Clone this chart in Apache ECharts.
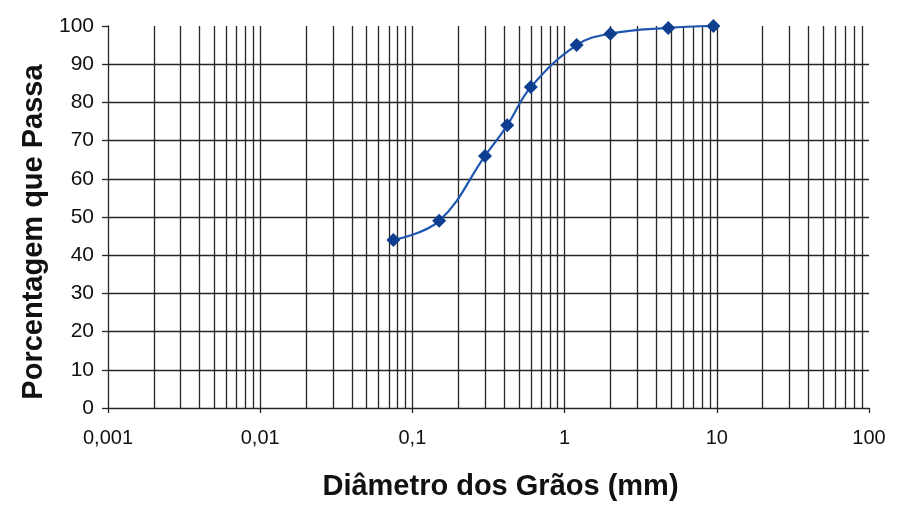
<!DOCTYPE html>
<html>
<head>
<meta charset="utf-8">
<script src="https://cdn.jsdelivr.net/npm/echarts@6/dist/echarts.min.js"></script>
<style>
html,body{margin:0;padding:0;background:#fff;}
#chart{width:899px;height:506px;}
</style>
</head>
<body>
<div id="chart"></div>
<script>
// Data (diameter in mm, percent passing)
const diameters = [0.075, 0.15, 0.3, 0.42, 0.6, 1.2, 2.0, 4.8, 9.5];
const passing = [44, 49, 66, 74, 84, 95, 98, 99.5, 100];
const xTickLabels = ["0,001", "0,01", "0,1", "1", "10", "100"];
const yTicks = [0, 10, 20, 30, 40, 50, 60, 70, 80, 90, 100];
const xTitle = "Diâmetro dos Grãos (mm)";
const yTitle = "Porcentagem que Passa";

// minor vertical grid lines (2..9 in every decade)
const decadeStarts = [0.001, 0.01, 0.1, 1, 10];
const minorGrid = [];
decadeStarts.forEach(d => { for (let k = 2; k <= 9; k++) minorGrid.push(+(d * k).toPrecision(3)); });

const font = '"Liberation Sans", Arial, sans-serif';
const gridColor = '#262626';

const chart = echarts.init(document.getElementById('chart'), null, {renderer: 'canvas'});
chart.setOption({
  animation: false,
  backgroundColor: '#ffffff',
  grid: {left: 108, right: 30, top: 26, bottom: 98},
  xAxis: {
    type: 'log', logBase: 10, min: 0.001, max: 100,
    name: xTitle, nameLocation: 'middle', nameGap: 64,
    nameTextStyle: {fontFamily: font, fontWeight: 'bold', fontSize: 29, color: '#111', padding: [0, 0, 0, 24]},
    axisLine: {show: true, lineStyle: {color: gridColor, width: 1.3}},
    axisTick: {show: true, length: 5, lineStyle: {color: gridColor, width: 1.3}},
    minorTick: {show: false},
    axisLabel: {
      fontFamily: font, fontSize: 20, color: '#111', margin: 20,
      formatter: v => xTickLabels[Math.round(Math.log10(v)) + 3]
    },
    splitLine: {show: true, showMinLine: false, showMaxLine: false, lineStyle: {color: gridColor, width: 1.3}}
  },
  yAxis: {
    type: 'value', min: 0, max: 100, interval: 10,
    name: yTitle, nameLocation: 'middle', nameGap: 57, nameRotate: 90,
    nameTextStyle: {fontFamily: font, fontWeight: 'bold', fontSize: 29, color: '#111', padding: [0, 30, 0, 0]},
    axisLine: {show: true, lineStyle: {color: gridColor, width: 1.3}},
    axisTick: {show: true, length: 6, lineStyle: {color: gridColor, width: 1.3}},
    axisLabel: {fontFamily: font, fontSize: 21, color: '#111', margin: 14,
      formatter: v => String(yTicks[Math.round(v / 10)])},
    splitLine: {show: true, showMinLine: false, showMaxLine: false, lineStyle: {color: gridColor, width: 1.3}}
  },
  series: [{
    type: 'line',
    data: diameters.map((d, i) => [d, passing[i]]),
    smooth: 0.4,
    symbol: 'diamond',
    symbolSize: 14,
    lineStyle: {color: '#1f57b0', width: 2.2},
    itemStyle: {color: '#0d3e90'},
    z: 5,
    markLine: {
      silent: true,
      symbol: 'none',
      precision: 8,
      label: {show: false},
      animation: false,
      lineStyle: {color: gridColor, width: 1.3, type: 'solid'},
      data: minorGrid.map(v => ({xAxis: v})),
      z: 1
    }
  }]
});
</script>
</body>
</html>
